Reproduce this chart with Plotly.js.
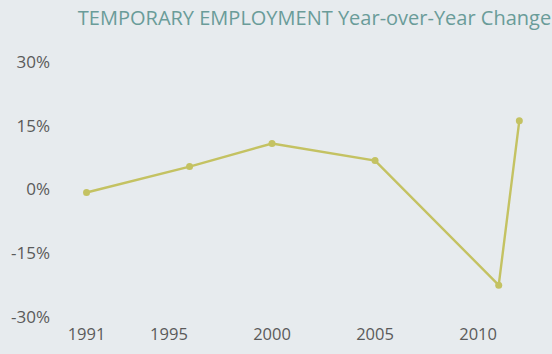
<!DOCTYPE html>
<html>
<head>
<meta charset="utf-8">
<script src="https://cdn.plot.ly/plotly-3.0.1.min.js"></script>
<style>html,body{margin:0;padding:0;background:#e7ebee;}#chart{width:552px;height:354px;}</style>
</head>
<body>
<div id="chart"></div>
<script>
var years = [1991, 1996, 2000, 2005, 2011, 2012];
var changePct = [-0.7, 5.4, 10.8, 6.8, -22.5, 16.2];
var xTickVals = [1991, 1995, 2000, 2005, 2010];
var xTickText = ["1991", "1995", "2000", "2005", "2010"];
var yTickVals = [-30, -15, 0, 15, 30];
var yTickText = ["-30%", "-15%", "0%", "15%", "30%"];

var trace = {
  x: years,
  y: changePct,
  type: 'scatter',
  mode: 'lines+markers',
  line: {color: '#c4c262', width: 2.4},
  marker: {color: '#c4c262', size: 7},
  hoverinfo: 'skip'
};

var layout = {
  width: 552,
  height: 354,
  paper_bgcolor: '#e7ebee',
  plot_bgcolor: '#e7ebee',
  margin: {l: 55, r: 10, t: 62, b: 37},
  showlegend: false,
  title: {
    text: 'TEMPORARY EMPLOYMENT Year-over-Year Change',
    font: {family: 'Open Sans, sans-serif', size: 20, color: '#6a9c99'},
    x: 0.141, xanchor: 'left', xref: 'container',
    y: 0.95, yanchor: 'middle', yref: 'container'
  },
  xaxis: {
    range: [1989.47, 2013.1],
    tickvals: xTickVals,
    ticktext: xTickText,
    showgrid: false, zeroline: false, showline: false, ticks: '',
    tickfont: {family: 'Open Sans, sans-serif', size: 16.5, color: '#5a5a5a'},
    ticklabelstandoff: 5
  },
  yaxis: {
    range: [-30, 30],
    tickvals: yTickVals,
    ticktext: yTickText,
    showgrid: false, zeroline: false, showline: false, ticks: '',
    tickfont: {family: 'Open Sans, sans-serif', size: 17, color: '#5a5a5a'},
    ticklabelstandoff: 4
  }
};

Plotly.newPlot('chart', [trace], layout, {displayModeBar: false, staticPlot: true});
</script>
</body>
</html>
